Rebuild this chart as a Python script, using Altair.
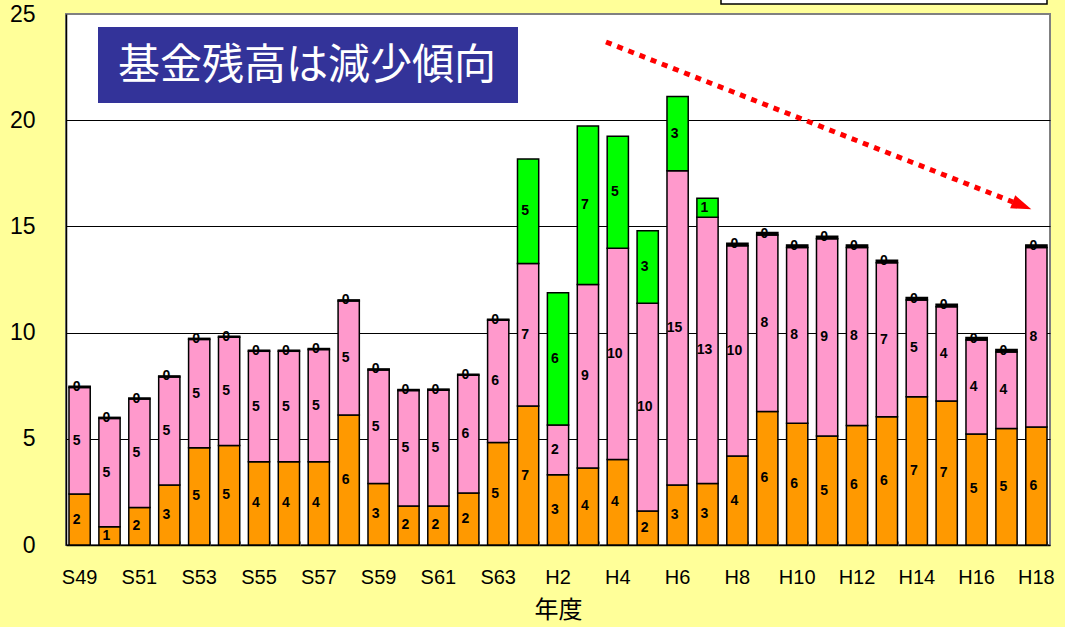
import altair as alt
import pandas as pd

# Fiscal years (Showa 49 .. Heisei 18)
years = ["S49", "S50", "S51", "S52", "S53", "S54", "S55", "S56", "S57", "S58",
         "S59", "S60", "S61", "S62", "S63",
         "H1", "H2", "H3", "H4", "H5", "H6", "H7", "H8", "H9", "H10",
         "H11", "H12", "H13", "H14", "H15", "H16", "H17", "H18"]

# Fund balances (stacked, bottom to top)
fund_orange = [2.40, 0.86, 1.76, 2.82, 4.58, 4.68, 3.92, 3.92, 3.92, 6.12,
               2.89, 1.84, 1.84, 2.45, 4.82,
               6.54, 3.31, 3.63, 4.02, 1.60, 2.82, 2.90, 4.19, 6.29, 5.73,
               5.13, 5.63, 6.04, 6.98, 6.78, 5.23, 5.49, 5.56]
fund_pink = [5.02, 5.10, 5.11, 5.09, 5.10, 5.10, 5.20, 5.20, 5.28, 5.37,
             5.35, 5.43, 5.45, 5.54, 5.76,
             6.71, 2.34, 8.64, 9.95, 9.78, 14.80, 12.53, 9.90, 8.30, 8.28,
             9.29, 8.38, 7.25, 4.55, 4.44, 4.42, 3.60, 8.45]
fund_green = [None] * 15 + [4.92, 6.23, 7.46, 5.27, 3.42, 3.49, 0.89] + [None] * 11
fund_other = [0.05] * 15 + [None] * 7 + [0.12] * 11

series_names = ["orange", "pink", "green", "other"]
series_colors = ["#FF9900", "#FF99CC", "#00FF00", "#000000"]
series_values = [fund_orange, fund_pink, fund_green, fund_other]

title_text = "基金残高は減少傾向"
y_ticks = [0, 5, 10, 15, 20, 25]

rows = []
for i, yr in enumerate(years):
    for k, vals in enumerate(series_values):
        v = vals[i]
        if v is None:
            continue
        rows.append({"year": yr, "series": series_names[k], "order": k, "value": v})
df = pd.DataFrame(rows)

W, H = 984, 531

xscale = alt.Scale(paddingInner=0.29, paddingOuter=0.1)
yscale = alt.Scale(domain=[0, 25], nice=False)

base = alt.Chart(df).transform_stack(
    stack="value",
    groupby=["year"],
    as_=["y0", "y1"],
    sort=[alt.SortField("order", order="ascending")],
).transform_calculate(mid="(datum.y0 + datum.y1) / 2")

bars = base.mark_bar(stroke="black", strokeWidth=1.5).encode(
    x=alt.X(
        "year:N", sort=years, scale=xscale,
        axis=alt.Axis(
            values=years[::2], title="年度", labelAngle=0,
            labelFont="Liberation Sans", labelFontSize=20, labelColor="black",
            labelPadding=22, ticks=False, domainColor="black", domainWidth=1.5,
            titleFont="Noto Sans CJK JP", titleFontSize=24, titleFontWeight="normal",
            titleColor="black", titlePadding=11, grid=False,
        ),
    ),
    y=alt.Y(
        "y0:Q", scale=yscale,
        axis=alt.Axis(
            values=y_ticks, title=None, ticks=False, labelPadding=31,
            labelFont="Liberation Sans", labelFontSize=23, labelColor="black",
            domainColor="black", domainWidth=1.5,
            grid=True, gridWidth=1.2,
            gridColor={"condition": {"test": "datum.value === 0 || datum.value === 25",
                                     "value": "transparent"},
                       "value": "black"},
        ),
    ),
    y2="y1:Q",
    color=alt.Color("series:N", scale=alt.Scale(domain=series_names, range=series_colors),
                    legend=None),
)

# Segment value labels; the top axis of this layer supplies the inner category ticks
labels = base.mark_text(
    font="Liberation Sans", fontWeight="bold", fontSize=14, color="black", dx=-3,
).encode(
    x=alt.X(
        "year:N", sort=years, scale=xscale,
        axis=alt.Axis(orient="top", offset=-H, labels=False, domain=False, title=None,
                      ticks=True, tickBand="extent", tickSize=4, tickColor="#808080",
                      tickWidth=1, grid=False),
    ),
    y=alt.Y("mid:Q", scale=yscale, axis=None),
    text=alt.Text("value:Q", format=".0f"),
)

note_df = pd.DataFrame({"t": [title_text]})
note_box = alt.Chart(note_df).mark_rect(color="#333399").encode(
    x=alt.value(32), x2=alt.value(452), y=alt.value(13), y2=alt.value(89)
)
note_text = alt.Chart(note_df).mark_text(
    font="Noto Sans CJK JP", fontSize=42, color="white", align="center", baseline="middle"
).encode(x=alt.value(241), y=alt.value(52), text="t:N")

# Trend arrow
arrow_line = alt.Chart(note_df).mark_rule(
    color="#FF0000", strokeWidth=5, strokeDash=[6, 6], strokeCap="butt"
).encode(x=alt.value(540), y=alt.value(28), x2=alt.value(947), y2=alt.value(188))
arrow_head = alt.Chart(note_df).mark_point(
    shape="M -1 -0.7 L 1 0 L -1 0.7 Z", size=400, filled=True, color="#FF0000",
    opacity=1, angle=21.5,
).encode(x=alt.value(956), y=alt.value(191.5))

# Partially visible box at the top edge
legend_box = alt.Chart(note_df).mark_rect(fill="white", stroke="black", strokeWidth=1.5).encode(
    x=alt.value(655), x2=alt.value(981), y=alt.value(-20), y2=alt.value(-10)
)

chart = alt.layer(
    legend_box, bars, labels, note_box, note_text, arrow_line, arrow_head
).resolve_axis(x="independent", y="independent").properties(
    width=W, height=H,
    autosize="none",
    padding={"left": 66, "top": 14, "right": 15, "bottom": 82},
    background="#FFFF99",
).configure_view(
    fill="white", stroke="#808080", strokeWidth=2
)

chart.save("out.html", embed_options={"renderer": "svg", "actions": False})
